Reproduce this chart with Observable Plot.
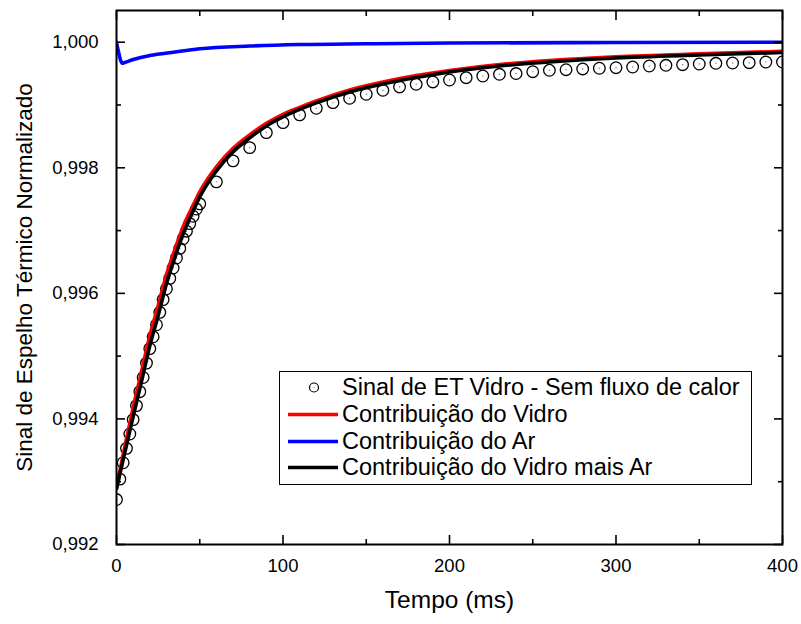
<!DOCTYPE html>
<html>
<head>
<meta charset="utf-8">
<script src="https://cdn.jsdelivr.net/npm/d3@7"></script>
<script src="https://cdn.jsdelivr.net/npm/@observablehq/plot@0.6"></script>
<style>
  body { margin: 0; background: #fff; font-family: "Liberation Sans", Arial, sans-serif; }
  #wrap { position: relative; width: 801px; height: 624px; }
  #legend { position: absolute; left: 279px; top: 371px; width: 473px; height: 114px; box-sizing: border-box;
            border: 1px solid #000; background: #fff; }
  .row { position: absolute; left: 0; height: 27px; display: flex; align-items: center;
         font-size: 23.5px; white-space: nowrap; color: #000; }
  .row span { margin-left: 2px; }
</style>
</head>
<body>
<div id="wrap"></div>
<script>
// ---- Data ----
const xTitle = "Tempo (ms)";
const yTitle = "Sinal de Espelho Térmico Normalizado";
const seriesNames = ["Sinal de ET Vidro - Sem fluxo de calor", "Contribuição do Vidro", "Contribuição do Ar", "Contribuição do Vidro mais Ar"];

// measured signal (open circles)
const tSignal = [0,2,4,6,8,10,12,14,16,18,20,22,24,26,28,30,32,34,36,38,40,42,44,46,48,50,
  60,70,80,90,100,110,120,130,140,150,160,170,180,190,200,210,220,230,240,250,260,270,280,290,300,
  310,320,330,340,350,360,370,380,390,400];
const vSignal = [0.992716,0.993041,0.993302,0.993531,0.993760,0.993989,0.994212,0.994434,0.994660,0.994889,
  0.995119,0.995309,0.995500,0.995698,0.995901,0.996073,0.996239,0.996404,0.996563,0.996716,
  0.996869,0.996990,0.997111,0.997228,0.997343,0.997426,
  0.997776,0.998110,0.998321,0.998560,0.998719,0.998842,0.998948,0.999037,0.999107,0.999171,
  0.999234,0.999287,0.999330,0.999367,0.999398,0.999435,0.999462,0.999489,0.999501,0.999530,
  0.999553,0.999562,0.999574,0.999585,0.999594,0.999605,0.999621,0.999632,0.999642,0.999653,
  0.999664,0.999669,0.999674,0.999685,0.999685];

// model curves
const tCurve = [0,2,5,10,15,20,25,30,35,40,45,50,60,70,80,90,100,110,120,140,160,180,200,230,260,300,350,400];
const vVidro = [0.992891,0.993168,0.993559,0.994180,0.994752,0.995325,0.995803,0.996296,0.996693,0.997059,
  0.997346,0.997617,0.998015,0.998309,0.998524,0.998707,0.998850,0.998961,0.999065,0.999240,
  0.999367,0.999470,0.999550,0.999645,0.999709,0.999768,0.999815,0.999855];
const vVidroAr = [0.992891,0.993120,0.993464,0.994037,0.994593,0.995166,0.995644,0.996153,0.996566,0.996948,
  0.997251,0.997537,0.997951,0.998253,0.998476,0.998667,0.998810,0.998929,0.999033,0.999208,
  0.999335,0.999438,0.999526,0.999621,0.999685,0.999749,0.999796,0.999836];
const tAr = [0,1,2,3.4,5,10,20,35,50,80,110,150,200,300,400];
const vAr = [1.000000,0.999868,0.999756,0.999666,0.999677,0.999725,0.999788,0.999844,0.999895,0.999939,
  0.999963,0.999975,0.999987,0.999995,1.000000];

// axes
const xTicks = [0,100,200,300,400];
const xMinor = [50,150,250,350];
const yTicks = [0.992,0.994,0.996,0.998,1.000];
const yMinor = [0.993,0.995,0.997,0.999];
const colors = {signal: "#000000", vidro: "#ff0000", ar: "#0000ff", vidroAr: "#000000"};

// ---- Build tables ----
const signal = tSignal.map((t, i) => ({t, v: vSignal[i]}));
const vidro = tCurve.map((t, i) => ({t, v: vVidro[i]}));
const vidroAr = tCurve.map((t, i) => ({t, v: vVidroAr[i]}));
const ar = tAr.map((t, i) => ({t, v: vAr[i]}));
const fmtY = d => d.toFixed(3).replace(".", ",");

const tickOpts = {fill: "none", label: null, strokeWidth: 1.6};

const chart = Plot.plot({
  width: 801,
  height: 624,
  marginLeft: 116,
  marginRight: 19,
  marginTop: 10,
  marginBottom: 80,
  style: {fontFamily: "'Liberation Sans', Arial, sans-serif", background: "white", color: "black"},
  x: {domain: [0, 400]},
  y: {domain: [0.992, 1.000505]},
  marks: [
    Plot.dot(signal, {x: "t", y: "v", r: 5.8, stroke: colors.signal, strokeWidth: 1.3, fill: "none", clip: true}),
    Plot.dot(signal, {x: "t", y: "v", r: 0.7, fill: "#777", stroke: "none", clip: true}),
    Plot.line(vidro, {x: "t", y: "v", stroke: colors.vidro, strokeWidth: 3.6, curve: "monotone-x", clip: true}),
    Plot.line(vidroAr, {x: "t", y: "v", stroke: colors.vidroAr, strokeWidth: 3.6, curve: "monotone-x", clip: true}),
    Plot.line(ar, {x: "t", y: "v", stroke: colors.ar, strokeWidth: 3.6, curve: "monotone-x", clip: true}),
    Plot.frame({stroke: "black", strokeWidth: 2}),
    Plot.axisX({anchor: "bottom", ticks: xTicks, tickSize: -9, ...tickOpts}),
    Plot.axisX({anchor: "bottom", ticks: xMinor, tickSize: -5, ...tickOpts}),
    Plot.axisX({anchor: "top", ticks: xTicks, tickSize: -9, ...tickOpts}),
    Plot.axisX({anchor: "top", ticks: xMinor, tickSize: -5, ...tickOpts}),
    Plot.axisY({anchor: "left", ticks: yTicks, tickSize: -9, ...tickOpts}),
    Plot.axisY({anchor: "left", ticks: yMinor, tickSize: -5, ...tickOpts}),
    Plot.axisY({anchor: "right", ticks: yTicks, tickSize: -9, ...tickOpts}),
    Plot.axisY({anchor: "right", ticks: yMinor, tickSize: -5, ...tickOpts}),
    Plot.axisX({anchor: "bottom", ticks: xTicks, tickSize: 0, tickPadding: 14, fontSize: 18.5, label: null}),
    Plot.axisY({anchor: "left", ticks: yTicks, tickSize: 0, tickPadding: 18, tickFormat: fmtY, fontSize: 18.5, label: null}),
    Plot.text([xTitle], {text: d => d, frameAnchor: "bottom", dy: 56, lineAnchor: "middle", textAnchor: "middle", fontSize: 24.5}),
    Plot.text([yTitle], {text: d => d, frameAnchor: "left", dx: -92, rotate: -90, lineAnchor: "middle", textAnchor: "middle", fontSize: 22.5})
  ]
});

const wrap = document.getElementById("wrap");
wrap.appendChild(chart);

// ---- Legend ----
const legend = document.createElement("div");
legend.id = "legend";
const centers = [15.7, 42, 69, 95.7];
const kinds = ["circle", "vidro", "ar", "vidroAr"];
const ns = "http://www.w3.org/2000/svg";
kinds.forEach((k, i) => {
  const row = document.createElement("div");
  row.className = "row";
  row.style.top = (centers[i] - 13.5) + "px";
  const svg = document.createElementNS(ns, "svg");
  svg.setAttribute("width", 60);
  svg.setAttribute("height", 27);
  if (k === "circle") {
    const c = document.createElementNS(ns, "circle");
    c.setAttribute("cx", 34); c.setAttribute("cy", 13.5); c.setAttribute("r", 4.5);
    c.setAttribute("fill", "none"); c.setAttribute("stroke", "#000"); c.setAttribute("stroke-width", 1.2);
    svg.appendChild(c);
    const d = document.createElementNS(ns, "circle");
    d.setAttribute("cx", 34); d.setAttribute("cy", 13.5); d.setAttribute("r", 0.6); d.setAttribute("fill", "#777");
    svg.appendChild(d);
  } else {
    const l = document.createElementNS(ns, "line");
    l.setAttribute("x1", 8); l.setAttribute("x2", 58); l.setAttribute("y1", 13.5); l.setAttribute("y2", 13.5);
    l.setAttribute("stroke", colors[k]); l.setAttribute("stroke-width", 3.6);
    svg.appendChild(l);
  }
  row.appendChild(svg);
  const s = document.createElement("span");
  s.textContent = seriesNames[i];
  row.appendChild(s);
  legend.appendChild(row);
});
wrap.appendChild(legend);
</script>
</body>
</html>
